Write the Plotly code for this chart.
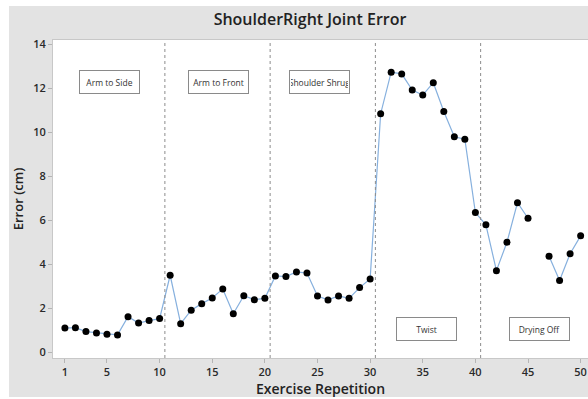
import plotly.graph_objects as go

repetition = list(range(1, 51))
error_cm = [1.11, 1.13, 0.95, 0.89, 0.83, 0.80, 1.63, 1.34, 1.45, 1.54,
            3.51, 1.31, 1.92, 2.22, 2.48, 2.89, 1.76, 2.58, 2.40, 2.46,
            3.48, 3.45, 3.66, 3.61, 2.57, 2.39, 2.57, 2.46, 2.95, 3.34,
            10.85, 12.74, 12.66, 11.93, 11.70, 12.26, 10.95, 9.80, 9.69, 6.36,
            5.80, 3.72, 5.01, 6.81, 6.10, None, 4.37, 3.27, 4.49, 5.30]

phase_bounds = [10.5, 20.5, 30.5, 40.5]
phase_labels = ["Arm to Side", "Arm to Front", "Shoulder Shrug", "Twist", "Drying Off"]
phase_label_x = [5.2, 15.55, 25.2, 35.4, 46.1]
phase_label_y = [12.27, 12.27, 12.27, 1.05, 1.05]

x_ticks = [1, 5, 10, 15, 20, 25, 30, 35, 40, 45, 50]
y_ticks = [0, 2, 4, 6, 8, 10, 12, 14]

W, H = 588, 399
ML, MR, MT, MB = 53, 0, 40, 41
pw, ph = W - ML - MR, H - MT - MB

def px_x(p):
    return (p - ML) / pw

def px_y(p):
    return (H - MB - p) / ph

fig = go.Figure()
fig.add_trace(go.Scatter(
    x=repetition, y=error_cm, mode="lines+markers",
    line=dict(color="#86b0de", width=1.2),
    marker=dict(color="black", size=7),
    connectgaps=False, showlegend=False,
))

shapes = []
for b in phase_bounds:
    shapes.append(dict(type="line", xref="x", yref="paper", x0=b, x1=b, y0=0, y1=1,
                       line=dict(color="#8c8c8c", width=1, dash="dot")))
# white margins around the grey panel
white = dict(type="rect", xref="paper", yref="paper", fillcolor="white",
             line=dict(width=0), layer="below")
shapes.append(dict(white, x0=px_x(-5), x1=px_x(9), y0=px_y(H + 5), y1=px_y(-5)))
shapes.append(dict(white, x0=px_x(-5), x1=px_x(W + 5), y0=px_y(6), y1=px_y(-5)))
shapes.append(dict(white, x0=px_x(-5), x1=px_x(W + 5), y0=px_y(H + 5), y1=px_y(397)))

annotations = []
for t, ax_, ay_ in zip(phase_labels, phase_label_x, phase_label_y):
    annotations.append(dict(
        x=ax_, y=ay_, xref="x", yref="y", text=t, showarrow=False,
        font=dict(family="Open Sans", size=8.5, color="#333"),
        width=57, height=20, borderpad=1, borderwidth=1, bordercolor="#8a8a8a",
        bgcolor="white", align="center", valign="middle",
    ))

fig.update_layout(
    width=W, height=H,
    margin=dict(l=ML, r=MR, t=MT, b=MB, autoexpand=False),
    paper_bgcolor="#e3e3e3", plot_bgcolor="white",
    title=dict(text="ShoulderRight Joint Error", x=310 / W, xref="container",
               xanchor="center", y=1 - 19 / H, yref="container", yanchor="middle",
               font=dict(family="Open Sans", size=16, color="#222", weight=600)),
    shapes=shapes, annotations=annotations,
    xaxis=dict(range=[-0.13, 50.7], tickvals=x_ticks, ticks="outside", ticklen=4,
               tickcolor="#b5b5b5", showgrid=False, zeroline=False,
               showline=True, linecolor="#c8c8c8", mirror=True,
               tickfont=dict(family="Open Sans", size=11, color="#2a2a2a", weight=600),
               title=dict(text="Exercise Repetition", standoff=3,
                          font=dict(family="Open Sans", size=14, color="#222", weight=600))),
    yaxis=dict(range=[-0.25, 14.2], tickvals=y_ticks, ticks="outside", ticklen=4,
               tickcolor="#b5b5b5", showgrid=False, zeroline=False,
               showline=True, linecolor="#c8c8c8", mirror=True,
               tickfont=dict(family="Open Sans", size=11, color="#2a2a2a", weight=600),
               title=dict(text="Error (cm)", standoff=6,
                          font=dict(family="Open Sans", size=13, color="#222", weight=600))),
)

fig.write_html("out.html")
